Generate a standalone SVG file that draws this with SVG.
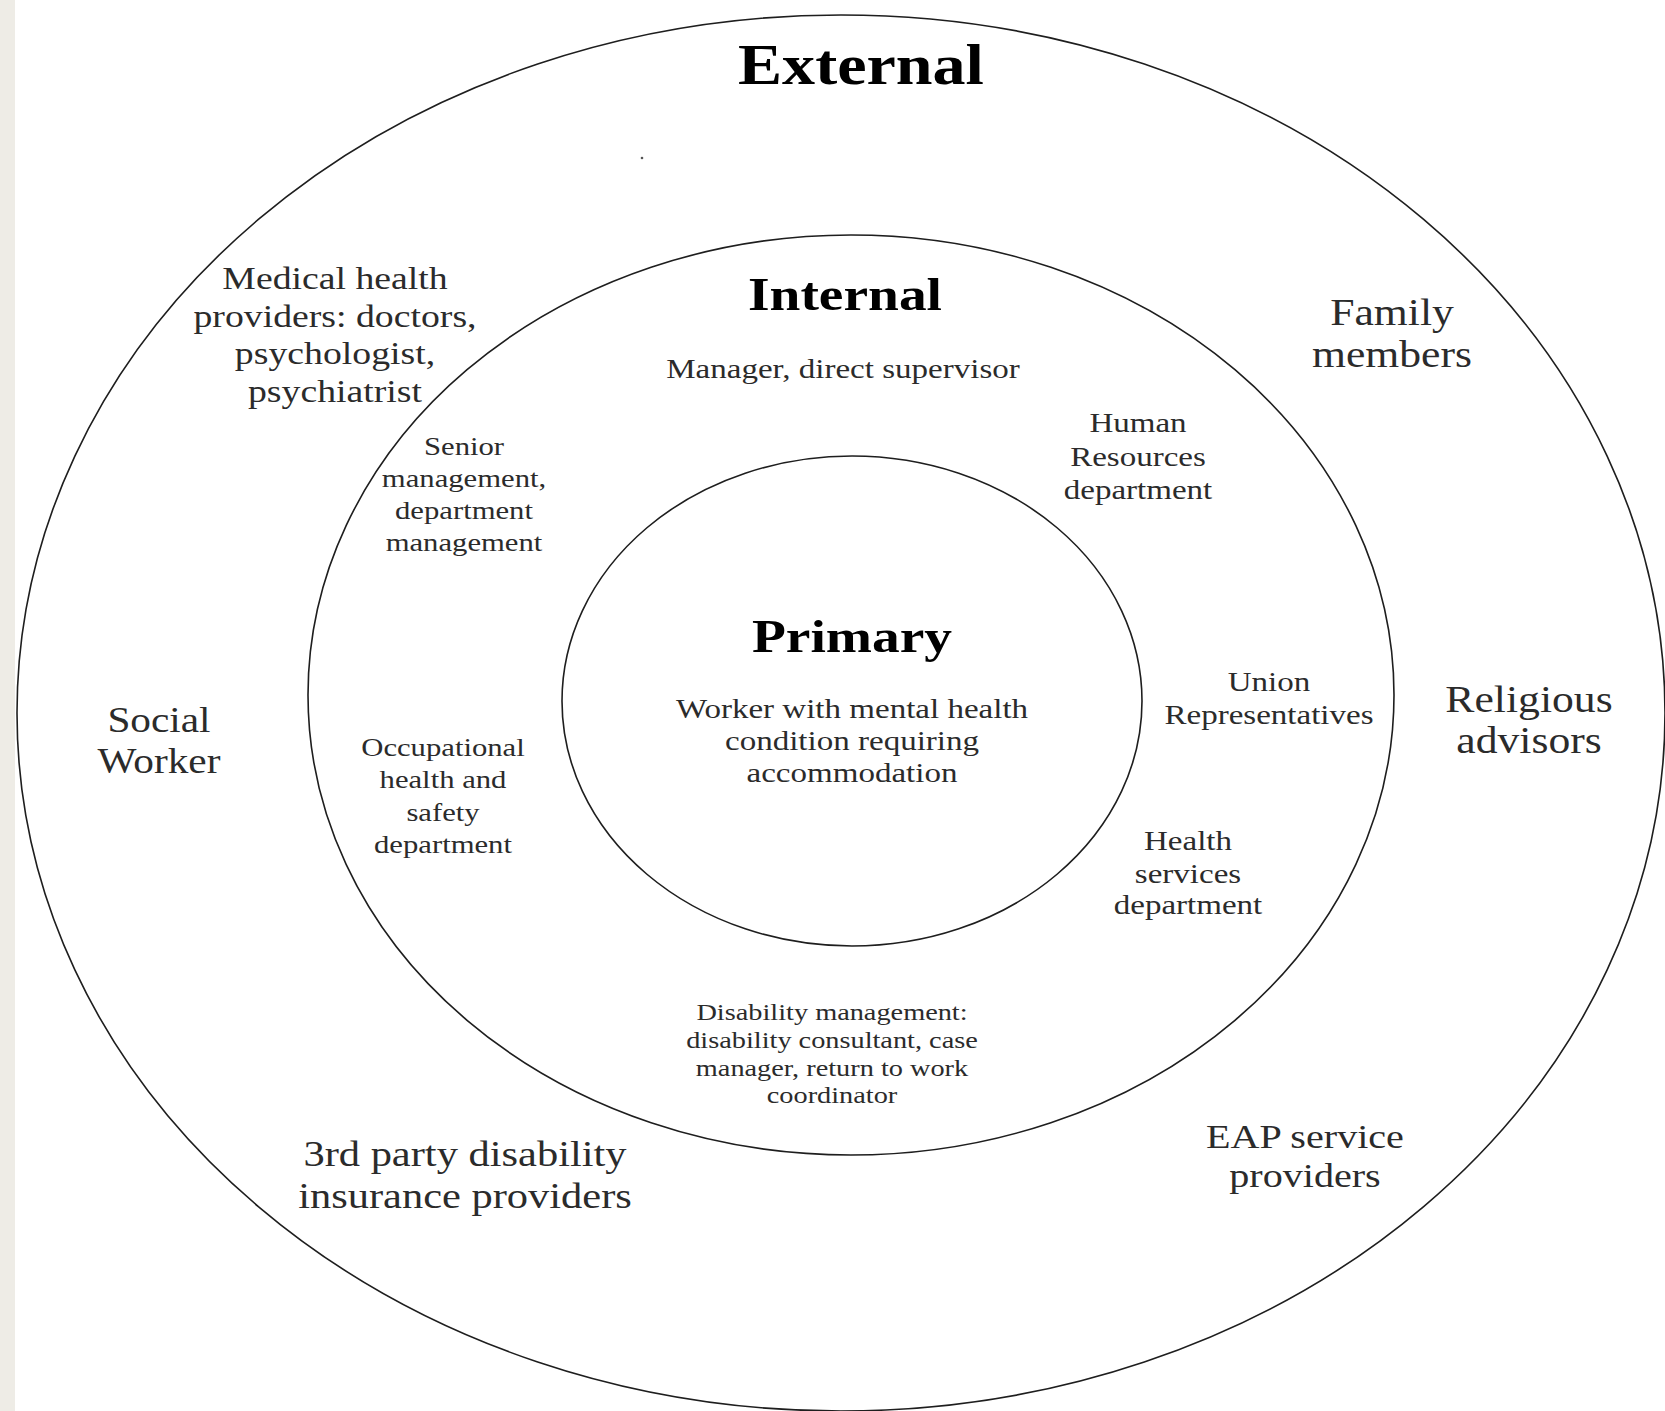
<svg xmlns="http://www.w3.org/2000/svg" width="1665" height="1411" viewBox="0 0 1665 1411">
<style>
.ring{fill:none;stroke:#1e1e1e;stroke-width:1.6}
.t{font-family:"Liberation Serif","Times New Roman",serif;fill:#2b2b2b;text-anchor:middle}
.h{font-family:"Liberation Serif","Times New Roman",serif;fill:#000;font-weight:bold;text-anchor:middle}
</style>
<rect x="0" y="0" width="1665" height="1411" fill="#ffffff"/>
<rect x="0" y="0" width="15" height="1411" fill="#eeece6"/>
<g id="rings">
<ellipse id="outer" class="ring" cx="841" cy="713" rx="824" ry="698"/>
<ellipse id="middle" class="ring" cx="851" cy="695" rx="543" ry="460"/>
<ellipse id="inner" class="ring" cx="852" cy="701" rx="290" ry="245"/>
</g>
<circle cx="642" cy="158" r="1.3" fill="#555"/>
<g id="connectors"></g>
<g id="external" transform="translate(861 0) scale(1.18 1)"><text class="h" x="0" y="84" font-size="56">External</text></g>
<g id="internal" transform="translate(845 0) scale(1.18 1)"><text class="h" x="0" y="310" font-size="47">Internal</text></g>
<g id="primary" transform="translate(852 0) scale(1.18 1)">
<text class="h" x="0" y="652" font-size="47">Primary</text>
<text class="t" font-size="28"><tspan x="0" y="718">Worker with mental health</tspan><tspan x="0" y="750">condition requiring</tspan><tspan x="0" y="782">accommodation</tspan></text>
</g>
<g id="medical" transform="translate(335 0) scale(1.18 1)">
<text class="t" font-size="32"><tspan x="0" y="289">Medical health</tspan><tspan x="0" y="327">providers: doctors,</tspan><tspan x="0" y="364">psychologist,</tspan><tspan x="0" y="402">psychiatrist</tspan></text>
</g>
<g id="senior" transform="translate(464 0) scale(1.18 1)">
<text class="t" font-size="26"><tspan x="0" y="455">Senior</tspan><tspan x="0" y="487">management,</tspan><tspan x="0" y="519">department</tspan><tspan x="0" y="551">management</tspan></text>
</g>
<g id="manager" transform="translate(843 0) scale(1.18 1)">
<text class="t" font-size="28" x="0" y="378">Manager, direct supervisor</text>
</g>
<g id="hr" transform="translate(1138 0) scale(1.18 1)">
<text class="t" font-size="28"><tspan x="0" y="432">Human</tspan><tspan x="0" y="466">Resources</tspan><tspan x="0" y="499">department</tspan></text>
</g>
<g id="union" transform="translate(1269 0) scale(1.18 1)">
<text class="t" font-size="28"><tspan x="0" y="691">Union</tspan><tspan x="0" y="724">Representatives</tspan></text>
</g>
<g id="ohs" transform="translate(443 0) scale(1.18 1)">
<text class="t" font-size="26"><tspan x="0" y="756">Occupational</tspan><tspan x="0" y="788">health and</tspan><tspan x="0" y="821">safety</tspan><tspan x="0" y="853">department</tspan></text>
</g>
<g id="health" transform="translate(1188 0) scale(1.18 1)">
<text class="t" font-size="28"><tspan x="0" y="850">Health</tspan><tspan x="0" y="883">services</tspan><tspan x="0" y="914">department</tspan></text>
</g>
<g id="disability" transform="translate(832 0) scale(1.18 1)">
<text class="t" font-size="24"><tspan x="0" y="1020">Disability management:</tspan><tspan x="0" y="1048">disability consultant, case</tspan><tspan x="0" y="1076">manager, return to work</tspan><tspan x="0" y="1103">coordinator</tspan></text>
</g>
<g id="family" transform="translate(1392 0) scale(1.18 1)">
<text class="t" font-size="37"><tspan x="0" y="325">Family</tspan><tspan x="0" y="367">members</tspan></text>
</g>
<g id="religious" transform="translate(1529 0) scale(1.18 1)">
<text class="t" font-size="37"><tspan x="0" y="712">Religious</tspan><tspan x="0" y="753">advisors</tspan></text>
</g>
<g id="social" transform="translate(159 0) scale(1.18 1)">
<text class="t" font-size="35"><tspan x="0" y="732">Social</tspan><tspan x="0" y="773">Worker</tspan></text>
</g>
<g id="thirdparty" transform="translate(465 0) scale(1.18 1)">
<text class="t" font-size="36"><tspan x="0" y="1166">3rd party disability</tspan><tspan x="0" y="1208">insurance providers</tspan></text>
</g>
<g id="eap" transform="translate(1305 0) scale(1.18 1)">
<text class="t" font-size="34"><tspan x="0" y="1148">EAP service</tspan><tspan x="0" y="1187">providers</tspan></text>
</g>
</svg>
